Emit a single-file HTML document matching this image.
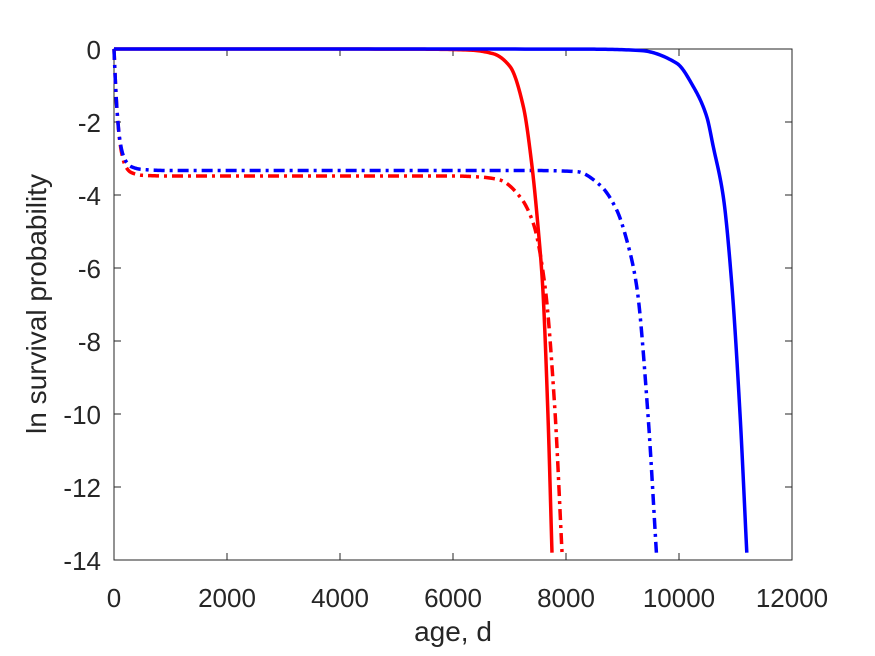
<!DOCTYPE html>
<html><head><meta charset="utf-8"><style>
body{margin:0;background:#fff}
svg{display:block;font-family:"Liberation Sans",Arial,sans-serif}
</style></head><body>
<svg width="875" height="656" viewBox="0 0 875 656">
<rect width="875" height="656" fill="#fff"/>
<g id="plot"></g>
</svg>
<script>
const xTicks=[0,2000,4000,6000,8000,10000,12000];
const yTicks=[0,-2,-4,-6,-8,-10,-12,-14];
const redSolidT=[0,3000,5500,6300,6713,7009,7245,7392,7510,7587,7680,7752];
const redSolidY=[0,0,-0.005,-0.03,-0.13,-0.48,-1.58,-3.13,-4.96,-6.5,-10,-13.8];
const redDashT=[0,25,50,100,150,200,300,500,1000,4000,6000,6500,6832,7186,7422,7628,7800,7930];
const redDashY=[0,-0.9,-1.6,-2.5,-2.95,-3.2,-3.38,-3.46,-3.48,-3.48,-3.48,-3.51,-3.59,-4.05,-4.78,-6.5,-9.8,-13.8];
const blueSolidT=[0,5000,8500,9310,9959,10253,10490,10607,10784,10932,11080,11200];
const blueSolidY=[0,0,-0.005,-0.04,-0.39,-1.03,-1.85,-2.68,-4.05,-6.4,-10,-13.8];
const blueDashT=[0,25,50,100,150,200,300,500,1000,4000,7500,8189,8602,8897,9074,9251,9450,9600];
const blueDashY=[0,-0.9,-1.6,-2.45,-2.85,-3.05,-3.22,-3.3,-3.33,-3.33,-3.33,-3.36,-3.73,-4.41,-5.23,-6.5,-10,-13.8];
const L=114,R=792,T=49,B=560;
const xs=v=>L+(v-0)/12000*(R-L);
const ys=v=>T+(0-v)/14*(B-T);
const NS='http://www.w3.org/2000/svg';
const g=document.getElementById('plot');
function mk(t,a){const e=document.createElementNS(NS,t);for(const k in a)e.setAttribute(k,a[k]);g.appendChild(e);return e;}
const box=mk('rect',{x:L,y:T,width:R-L,height:B-T,fill:'none',stroke:'#262626','stroke-width':1});


xTicks.forEach(v=>{
  const x=xs(v);
  const t1=mk('line',{x1:x,x2:x,y1:B,y2:B-7,stroke:'#262626'});
  
  
  const t2=mk('line',{x1:x,x2:x,y1:T,y2:T+7,stroke:'#262626'});
  
  
  const tx=mk('text',{x:x,y:B+47,'text-anchor':'middle','font-size':26,fill:'#262626'});
  tx.textContent=v;
  
  
});
yTicks.forEach(v=>{
  const y=ys(v);
  const t1=mk('line',{x1:L,x2:L+7,y1:y,y2:y,stroke:'#262626'});
  
  
  const t2=mk('line',{x1:R,x2:R-7,y1:y,y2:y,stroke:'#262626'});
  
  
  const tx=mk('text',{x:L-13,y:y+10,'text-anchor':'end','font-size':26,fill:'#262626'});
  tx.textContent=v;
  
  
});
function path(X,Y){
  const n=X.length, d=[], m=new Array(n);
  for(let i=0;i<n-1;i++)d.push((Y[i+1]-Y[i])/(X[i+1]-X[i]));
  m[0]=d[0];m[n-1]=d[n-2];
  for(let i=1;i<n-1;i++){
    if(d[i-1]*d[i]<=0)m[i]=0;
    else{const w1=2*(X[i+1]-X[i])+(X[i]-X[i-1]),w2=(X[i+1]-X[i])+2*(X[i]-X[i-1]);
      m[i]=(w1+w2)/(w1/d[i-1]+w2/d[i]);}
  }
  let s='M'+xs(X[0])+','+ys(Y[0]);
  for(let i=0;i<n-1;i++){
    const h=X[i+1]-X[i];
    for(let k=1;k<=20;k++){
      const u=k/20,h00=2*u*u*u-3*u*u+1,h10=u*u*u-2*u*u+u,h01=-2*u*u*u+3*u*u,h11=u*u*u-u*u;
      const y=h00*Y[i]+h10*h*m[i]+h01*Y[i+1]+h11*h*m[i+1];
      s+=' L'+xs(X[i]+u*h).toFixed(2)+','+ys(y).toFixed(2);
    }
  }
  return s;
}
function series(T_,Y_,col,dash,name){
  const e=mk('path',{d:path(T_,Y_),fill:'none',stroke:col,'stroke-width':3.5,'stroke-linejoin':'round'});
  if(dash)e.setAttribute('stroke-dasharray','11 5 3 5');
  
  
}
series(redDashT,redDashY,'#ff0000',true,'red-dashdot-line');
series(blueDashT,blueDashY,'#0000ff',true,'blue-dashdot-line');
series(redSolidT,redSolidY,'#ff0000',false,'red-solid-line');
series(blueSolidT,blueSolidY,'#0000ff',false,'blue-solid-line');
const xl=mk('text',{x:(L+R)/2,y:641,'text-anchor':'middle','font-size':28,fill:'#262626'});
xl.textContent='age, d';


const yl=mk('text',{x:0,y:0,transform:'translate(46,304) rotate(-90)','text-anchor':'middle','font-size':28,fill:'#262626'});
yl.textContent='ln survival probability';


</script>
</body></html>
